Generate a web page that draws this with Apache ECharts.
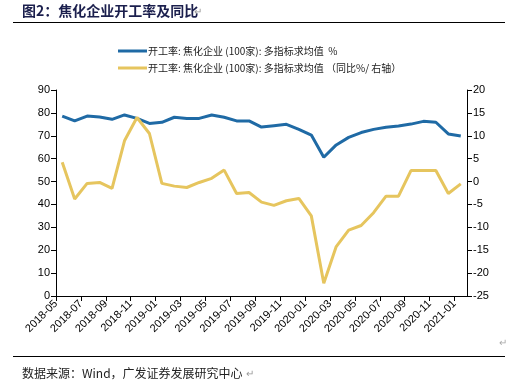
<!DOCTYPE html>
<html><head><meta charset="utf-8">
<script src="https://cdn.jsdelivr.net/npm/echarts@6/dist/echarts.min.js"></script>
<style>html,body{margin:0;padding:0;background:#fff}#c{width:509px;height:386px}</style>
</head><body><div id="c"></div>
<script>
const months = ["2018-05","2018-06","2018-07","2018-08","2018-09","2018-10","2018-11","2018-12",
"2019-01","2019-02","2019-03","2019-04","2019-05","2019-06","2019-07","2019-08","2019-09","2019-10","2019-11","2019-12",
"2020-01","2020-02","2020-03","2020-04","2020-05","2020-06","2020-07","2020-08","2020-09","2020-10","2020-11","2020-12",
"2021-01"];
const rateName = "开工率: 焦化企业 (100家): 多指标求均值  %";
const yoyName = "开工率: 焦化企业 (100家): 多指标求均值 （同比%/ 右轴）";
const rate = [78.6,76.5,78.6,78.2,77.2,79.1,77.6,75.4,75.9,78.1,77.6,77.6,79.1,78.1,76.5,76.5,73.8,74.4,75.0,72.8,70.3,60.6,66.0,69.3,71.4,72.8,73.7,74.3,75.1,76.3,75.9,70.8,69.9];
const yoy = [4.2,-3.8,-0.4,-0.2,-1.5,8.9,14.0,10.5,-0.4,-1.0,-1.3,-0.2,0.7,2.5,-2.6,-2.4,-4.5,-5.2,-4.2,-3.7,-7.5,-22.2,-14.2,-10.6,-9.6,-6.8,-3.2,-3.2,2.4,2.4,2.4,-2.6,-0.5];
const tickMonths = months.concat([""]);
const leftTicks = [0, 90, 10];
const rightTicks = [-25, 20, 5];

const chart = echarts.init(document.getElementById('c'));
const axisFont = {fontFamily:'Liberation Sans, Arial', fontSize:11, color:'#000'};
chart.setOption({
  animation:false,
  textStyle:{fontFamily:'Liberation Sans, Arial'},
  grid:{left:56, right:42, top:90, bottom:90},
  legend:{
    orient:'vertical', left:113, top:41, itemWidth:29, itemHeight:3, itemGap:7,
    icon:'rect',
    textStyle:{fontFamily:'Noto Sans CJK SC', fontSize:10, color:'#222', padding:[0,0,0,-4]},
    data:[rateName, yoyName]
  },
  xAxis:[
    {type:'category', data:months, boundaryGap:true,
     axisLine:{onZero:false, lineStyle:{color:'#000'}}, axisTick:{show:false}, axisLabel:{show:false}},
    {type:'category', data:tickMonths, boundaryGap:false, position:'bottom',
     axisLine:{show:false, onZero:false},
     axisTick:{show:true, interval:1, length:5, lineStyle:{color:'#000'}},
     axisLabel:Object.assign({interval:1, rotate:45, margin:6}, axisFont)}
  ],
  yAxis:[
    {type:'value', min:leftTicks[0], max:leftTicks[1], interval:leftTicks[2], splitLine:{show:false},
     axisLine:{show:true, lineStyle:{color:'#000'}}, axisTick:{show:true, length:5, lineStyle:{color:'#000'}},
     axisLabel:Object.assign({margin:6}, axisFont)},
    {type:'value', min:rightTicks[0], max:rightTicks[1], interval:rightTicks[2], splitLine:{show:false},
     axisLine:{show:true, lineStyle:{color:'#000'}}, axisTick:{show:true, length:5, lineStyle:{color:'#000'}},
     axisLabel:Object.assign({margin:6}, axisFont)}
  ],
  series:[
    {name:rateName, type:'line', data:rate, xAxisIndex:0, yAxisIndex:0, symbol:'none',
     lineStyle:{width:3, color:'#1f6aa5'}, itemStyle:{color:'#1f6aa5'}},
    {name:yoyName, type:'line', data:yoy, xAxisIndex:0, yAxisIndex:1, symbol:'none',
     lineStyle:{width:3, color:'#e6c55e'}, itemStyle:{color:'#e6c55e'}}
  ],
  graphic:[
    {type:'text', left:22, top:4, style:{text:'图2：焦化企业开工率及同比', fontFamily:'Noto Sans CJK SC', fontWeight:'bold', fontSize:14, fill:'#1b1f4d'}},
    {type:'text', left:194, top:7, style:{text:'↵', fontSize:10, fill:'#999'}},
    {type:'line', shape:{x1:13, y1:22.5, x2:505, y2:22.5}, style:{stroke:'#000', lineWidth:1}},
    {type:'line', shape:{x1:13, y1:356.5, x2:505, y2:356.5}, style:{stroke:'#000', lineWidth:1}},
    {type:'text', left:499, top:338, style:{text:'↵', fontSize:10, fill:'#aaa'}},
    {type:'text', left:22, top:367, style:{text:'数据来源：Wind，广发证券发展研究中心', fontFamily:'Noto Sans CJK SC', fontSize:12, fill:'#222'}},
    {type:'text', left:246, top:369, style:{text:'↵', fontSize:10, fill:'#999'}}
  ]
});
</script></body></html>
